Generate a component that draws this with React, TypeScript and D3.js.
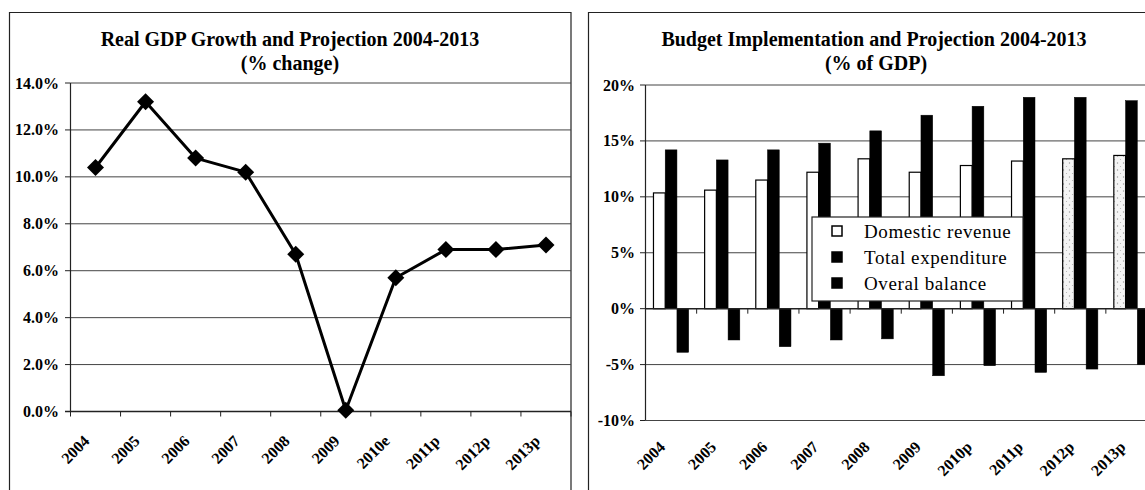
import React from "react";
import * as d3 from "d3";

// ---------- Data ----------
const gdpYears = ["2004", "2005", "2006", "2007", "2008", "2009", "2010e", "2011p", "2012p", "2013p"];
const gdpGrowth = [10.4, 13.2, 10.8, 10.2, 6.7, 0.05, 5.7, 6.9, 6.9, 7.1];
const gdpTicks = [0, 2, 4, 6, 8, 10, 12, 14];

const budgetYears = ["2004", "2005", "2006", "2007", "2008", "2009", "2010p", "2011p", "2012p", "2013p"];
const domesticRevenue = [10.35, 10.6, 11.5, 12.2, 13.4, 12.2, 12.8, 13.2, 13.4, 13.7];
const totalExpenditure = [14.2, 13.3, 14.2, 14.8, 15.9, 17.3, 18.1, 18.9, 18.9, 18.6];
const overallBalance = [-3.9, -2.8, -3.4, -2.8, -2.7, -6.0, -5.1, -5.7, -5.4, -5.0];
const budgetTicks = [-10, -5, 0, 5, 10, 15, 20];
const seriesNames = ["Domestic revenue", "Total expenditure", "Overal balance"];

const SERIF = "'Liberation Serif', 'Times New Roman', serif";

function GdpChart() {
  const x = d3.scaleBand<string>().domain(gdpYears).range([70.5, 571]).padding(0);
  const y = d3.scaleLinear().domain([0, 14]).range([411.5, 83]);
  const line = d3
    .line<number>()
    .x((_, i) => (x(gdpYears[i]) as number) + x.bandwidth() / 2)
    .y((d) => y(d));
  const diamond = "M0,-8.5L8.5,0L0,8.5L-8.5,0Z";
  return (
    <g>
      <path d="M9.5,495L9.5,12.5L571,12.5L571,495" fill="none" stroke="#222" strokeWidth={1.2} />
      <text x={290} y={46} textAnchor="middle" fontFamily={SERIF} fontWeight="bold" fontSize={20}>
        Real GDP Growth and Projection 2004-2013
      </text>
      <text x={290} y={70} textAnchor="middle" fontFamily={SERIF} fontWeight="bold" fontSize={20}>
        (%  change)
      </text>
      {gdpTicks.filter((t) => t > 0).map((t) => (
        <line key={t} x1={70.5} x2={571} y1={y(t)} y2={y(t)} stroke="#444" strokeWidth={1} />
      ))}
      <line x1={70.5} x2={70.5} y1={83} y2={411.5} stroke="#222" strokeWidth={1.2} />
      <line x1={65} x2={571} y1={411.5} y2={411.5} stroke="#222" strokeWidth={1.5} />
      {gdpTicks.map((t) => (
        <g key={t}>
          <line x1={65} x2={70.5} y1={y(t)} y2={y(t)} stroke="#222" />
          <text x={59} y={y(t) + 5.5} textAnchor="end" fontFamily={SERIF} fontWeight="bold" fontSize={16}>
            {t.toFixed(1) + "%"}
          </text>
        </g>
      ))}
      {gdpYears.map((c) => (
        <line key={"t" + c} x1={x(c) as number} x2={x(c) as number} y1={411.5} y2={416.5} stroke="#222" />
      ))}
      <line x1={571} x2={571} y1={411.5} y2={416.5} stroke="#222" />
      {gdpYears.map((c) => {
        const cx = (x(c) as number) + x.bandwidth() / 2;
        return (
          <text
            key={"l" + c}
            transform={`translate(${cx - 5},${442}) rotate(-45)`}
            textAnchor="end"
            fontFamily={SERIF}
            fontWeight="bold"
            fontSize={16}
          >
            {c}
          </text>
        );
      })}
      <path d={line(gdpGrowth) || ""} fill="none" stroke="#000" strokeWidth={3} strokeLinejoin="round" />
      {gdpGrowth.map((v, i) => (
        <path
          key={"m" + i}
          d={diamond}
          transform={`translate(${(x(gdpYears[i]) as number) + x.bandwidth() / 2},${y(v)})`}
          fill="#000"
        />
      ))}
    </g>
  );
}

function BudgetChart() {
  const x0 = d3.scaleBand<string>().domain(budgetYears).range([645.5, 1157]).padding(0);
  const x1 = d3.scaleBand<string>().domain(seriesNames).range([0, x0.bandwidth()]).paddingInner(0).paddingOuter(0.68);
  const y = d3.scaleLinear().domain([-10, 20]).range([420.5, 85]);
  const series = [domesticRevenue, totalExpenditure, overallBalance];
  const fills = ["#fff", "#000", "#000"];
  return (
    <g>
      <defs>
        <pattern id="speckle" width="6" height="7" patternUnits="userSpaceOnUse">
          <rect width="6" height="7" fill="#f4f4f4" />
          <circle cx="1.5" cy="2" r="0.7" fill="#9a9a9a" />
          <circle cx="4.5" cy="5.5" r="0.6" fill="#b0b0b0" />
        </pattern>
      </defs>
      <path d="M588.5,495L588.5,12.5L1150,12.5" fill="none" stroke="#222" strokeWidth={1.2} />
      <text x={874} y={46} textAnchor="middle" fontFamily={SERIF} fontWeight="bold" fontSize={20}>
        Budget Implementation and Projection 2004-2013
      </text>
      <text x={876} y={70} textAnchor="middle" fontFamily={SERIF} fontWeight="bold" fontSize={20}>
        (%  of GDP)
      </text>
      {budgetTicks.filter((t) => t !== 0).map((t) => (
        <line key={t} x1={645.5} x2={1157} y1={y(t)} y2={y(t)} stroke="#444" strokeWidth={1} />
      ))}
      {budgetTicks.map((t) => (
        <g key={"y" + t}>
          <line x1={640} x2={645.5} y1={y(t)} y2={y(t)} stroke="#222" />
          <text x={635} y={y(t) + 5.5} textAnchor="end" fontFamily={SERIF} fontWeight="bold" fontSize={16}>
            {t + "%"}
          </text>
        </g>
      ))}
      {budgetYears.map((c, i) =>
        series.map((s, k) => {
          const v = s[i];
          const bx = (x0(c) as number) + (x1(seriesNames[k]) as number);
          const top = y(Math.max(0, v));
          const h = Math.abs(y(v) - y(0));
          const textured = k === 0 && i >= 8;
          return (
            <rect
              key={c + k}
              x={bx}
              y={top}
              width={x1.bandwidth()}
              height={h}
              fill={textured ? "url(#speckle)" : fills[k]}
              stroke="#000"
              strokeWidth={k === 0 ? 1.2 : 0.5}
            />
          );
        })
      )}
      <line x1={645.5} x2={645.5} y1={85} y2={420.5} stroke="#222" strokeWidth={1.2} />
      <line x1={645.5} x2={1157} y1={y(0)} y2={y(0)} stroke="#222" strokeWidth={1.5} />
      {budgetYears.map((c) => (
        <line key={"t" + c} x1={x0(c) as number} x2={x0(c) as number} y1={y(0)} y2={y(0) + 5} stroke="#222" />
      ))}
      {budgetYears.map((c) => {
        const cx = (x0(c) as number) + x0.bandwidth() / 2;
        return (
          <text
            key={"l" + c}
            transform={`translate(${cx - 5},${448}) rotate(-45)`}
            textAnchor="end"
            fontFamily={SERIF}
            fontWeight="bold"
            fontSize={16}
          >
            {c}
          </text>
        );
      })}
      <rect x={812} y={217} width={211} height={84} fill="#fff" stroke="#222" strokeWidth={1.2} />
      {seriesNames.map((n, k) => (
        <g key={n}>
          <rect
            x={832}
            y={226 + k * 26}
            width={10}
            height={10}
            fill={fills[k]}
            stroke="#000"
            strokeWidth={1.5}
          />
          <text x={864} y={238 + k * 26} fontFamily={SERIF} fontSize={19} letterSpacing={0.6}>
            {n}
          </text>
        </g>
      ))}
    </g>
  );
}

export default function App() {
  return (
    <svg
      width={1145}
      height={490}
      style={{ position: "absolute", left: 0, top: 0, background: "#fff" }}
    >
      <rect width={1145} height={490} fill="#fff" />
      <GdpChart />
      <BudgetChart />
    </svg>
  );
}
